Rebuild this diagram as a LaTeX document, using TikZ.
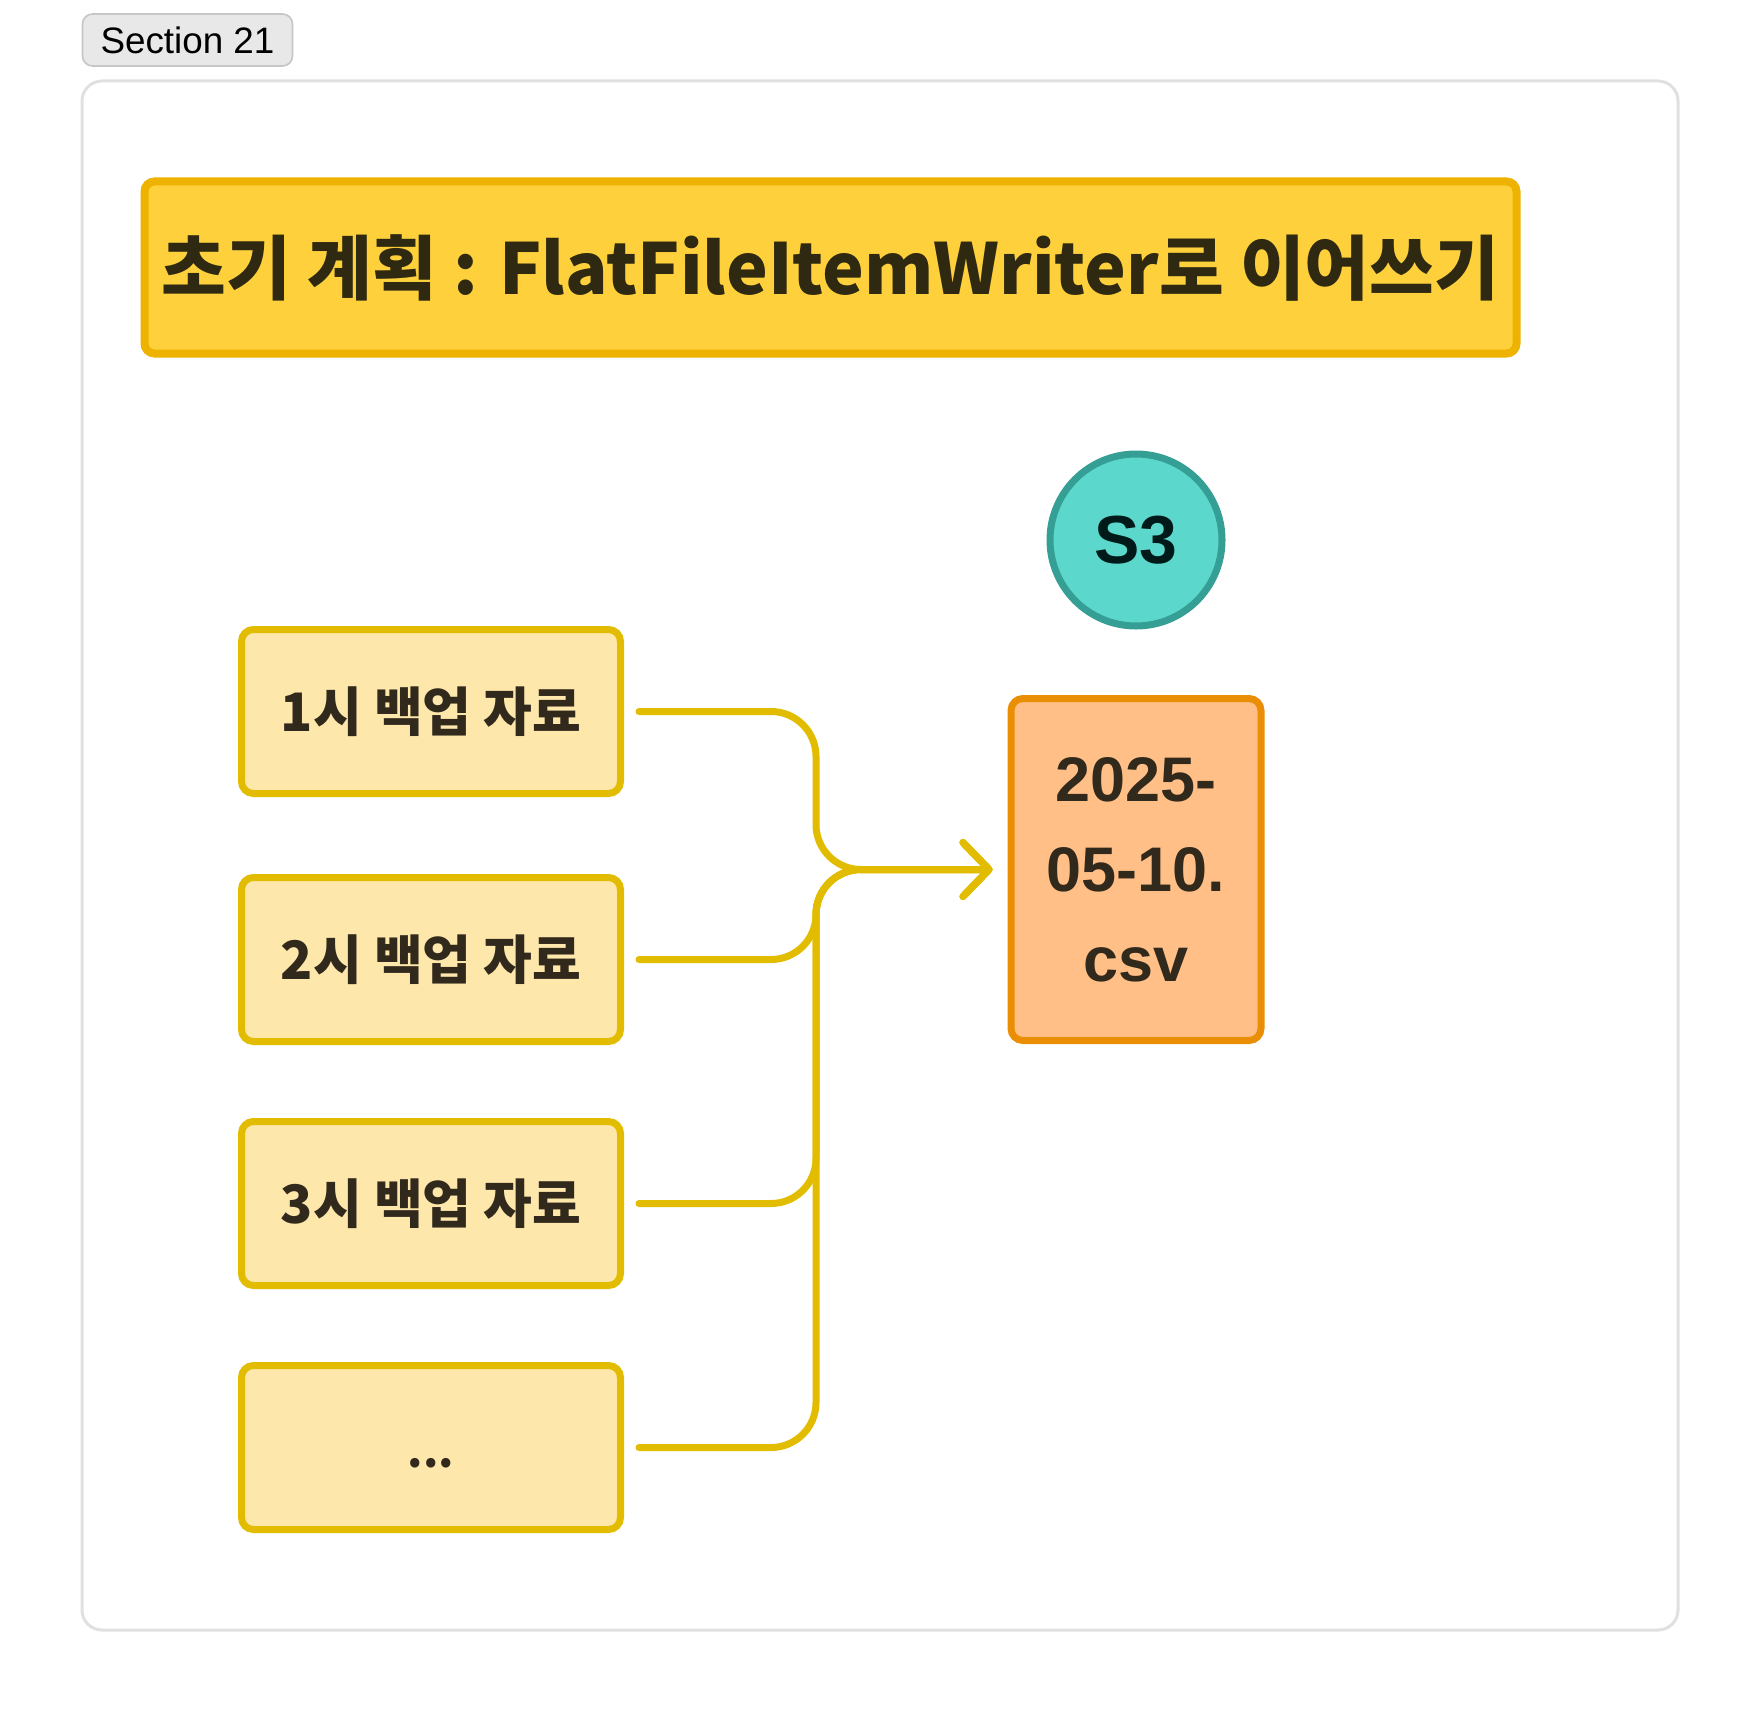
\documentclass[tikz,border=0pt]{standalone}
\usepackage{fontspec}
\setmainfont{Liberation Sans}
\newfontfamily\kr{Noto Sans CJK KR}
\usetikzlibrary{arrows.meta}
\tikzset{>=latex}
\usepackage{xcolor}
\definecolor{tagfill}{HTML}{E8E8E8}
\definecolor{tagline}{HTML}{C6C6C6}
\definecolor{frameline}{HTML}{E0E0E0}
\definecolor{titlefill}{HTML}{FED13C}
\definecolor{titleline}{HTML}{EEB200}
\definecolor{backupfill}{HTML}{FDE7AB}
\definecolor{backupline}{HTML}{E1BC00}
\definecolor{bucketfill}{HTML}{5BD8CB}
\definecolor{bucketline}{HTML}{369F95}
\definecolor{csvfill}{HTML}{FFBF86}
\definecolor{csvline}{HTML}{EA8E05}
\definecolor{ink}{HTML}{32291D}
\definecolor{titleink}{HTML}{2E2910}
\tikzstyle{tag}=[draw=tagline,fill=tagfill,line width=0.8pt,rounded corners=5pt,minimum width=105pt,minimum height=26pt,font=\fontsize{18.4}{20}\selectfont]
\tikzstyle{heading}=[draw=titleline,fill=titlefill,line width=4pt,rounded corners=5pt,minimum width=686pt,minimum height=86pt,inner xsep=0pt,text=titleink,font=\kr\bfseries\fontsize{35.2}{40}\selectfont]
\tikzstyle{backup}=[draw=backupline,fill=backupfill,line width=3.5pt,rounded corners=6pt,minimum width=189.5pt,minimum height=82pt,text=ink,font=\kr\bfseries\fontsize{26.5}{30}\selectfont]
\tikzstyle{bucket}=[circle,draw=bucketline,fill=bucketfill,line width=3.5pt,minimum size=86pt,inner sep=0pt,text=black!80!teal,font=\bfseries\fontsize{34}{38}\selectfont]
\tikzstyle{csvfile}=[draw=csvline,fill=csvfill,line width=3.5pt,rounded corners=6pt,minimum width=125pt,minimum height=171pt,align=center,text=ink,font=\bfseries\fontsize{31.5}{45}\selectfont]
\tikzstyle{link}=[draw=backupline,line width=3.5pt,line cap=round,rounded corners=22.5pt,-{Straight Barb[length=13pt,width=27pt,round]},shorten <=7.5pt,shorten >=7.5pt]

\begin{document}
\begin{tikzpicture}[x=0.5pt,y=-0.5pt]
 \useasboundingbox (0,0) rectangle (1760,1712);
 \node[tag] (sec) at (187.5,40) {Section 21};
 \draw[frameline,line width=1.5pt,rounded corners=10pt] (82,81) rectangle (1678,1630);
 %
 \node[heading] (title) at (830.5,267.5) {초기 계획 : FlatFileItemWriter로 이어쓰기};
 %
 \node[bucket] (s3) at (1136,540) {S3};
 \node[csvfile] (csv) at (1136,869.5) {2025-\\05-10.\\csv};
 %
 \node[backup] (b1) at (431,711.5) {1시 백업 자료};
 \node[backup] (b2) at (431,959.5) {2시 백업 자료};
 \node[backup] (b3) at (431,1203.5) {3시 백업 자료};
 \node[backup] (b4) at (431,1447.5) {\vphantom{1시}{\fontsize{22}{26}\selectfont ...}};
 %
 \coordinate (join) at (816,869.5);
 \foreach \B in {b1,b2,b3,b4}
 {\draw[link] (\B.east) -| (join) -- (csv.west);}
\end{tikzpicture}
\end{document}
